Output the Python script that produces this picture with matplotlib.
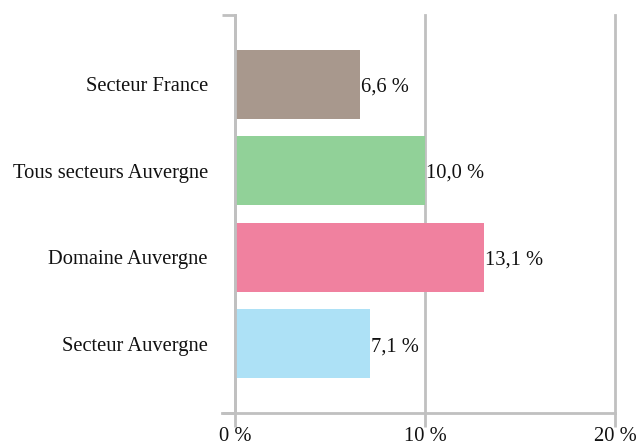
import matplotlib.pyplot as plt

# donnees (de bas en haut)
categories = ['Secteur Auvergne', 'Domaine Auvergne', 'Tous secteurs Auvergne', 'Secteur France']
valeurs = [7.1, 13.1, 10.0, 6.6]
etiquettes = ['7,1 %', '13,1 %', '10,0 %', '6,6 %']
couleurs = ['#ade1f6', '#f0819f', '#91d198', '#a8988d']
xticks = [0, 10, 20]
xlabels = ['0 %', '10 %', '20 %']

GRIS = '#c0c0c0'
TAILLE = 14.8

plt.rcParams['font.family'] = ['Liberation Serif', 'DejaVu Serif']

fig = plt.figure(figsize=(6.4, 4.45), dpi=100)
ax = fig.add_axes([235 / 640, 32 / 445, 380 / 640, 398 / 445])

y = list(range(len(categories)))
ax.barh(y, valeurs, height=0.8, color=couleurs, zorder=2)

for i, (v, lab) in enumerate(zip(valeurs, etiquettes)):
    ax.annotate(lab, (v, i), xytext=(0.5, -2), textcoords='offset points',
                ha='left', va='center', fontsize=TAILLE, color='#111111', zorder=3)

ax.set_xlim(0, 20)
ax.set_ylim(-0.8, 3.8)

ax.set_xticks(xticks)
ax.set_xticklabels(xlabels, fontsize=TAILLE, color='#111111')
ax.set_yticks(y)
ax.set_yticklabels(categories, fontsize=TAILLE, color='#111111')
ax.set_yticks([-0.8, 3.8], minor=True)

ax.tick_params(axis='y', which='major', length=0, pad=19.5)
ax.tick_params(axis='y', which='minor', length=9.5, width=2, color=GRIS)
ax.tick_params(axis='x', length=10, width=2, color=GRIS, pad=0)

ax.grid(axis='x', color=GRIS, linewidth=2, zorder=0)
ax.set_axisbelow(True)
for g in ax.get_xgridlines():
    g.set_clip_on(False)

for s in ['top', 'right']:
    ax.spines[s].set_visible(False)
for s in ['left', 'bottom']:
    ax.spines[s].set_color(GRIS)
    ax.spines[s].set_linewidth(2)
ax.spines['bottom'].set_bounds(-0.7, 20)

fig.savefig('out.png', dpi=100)
